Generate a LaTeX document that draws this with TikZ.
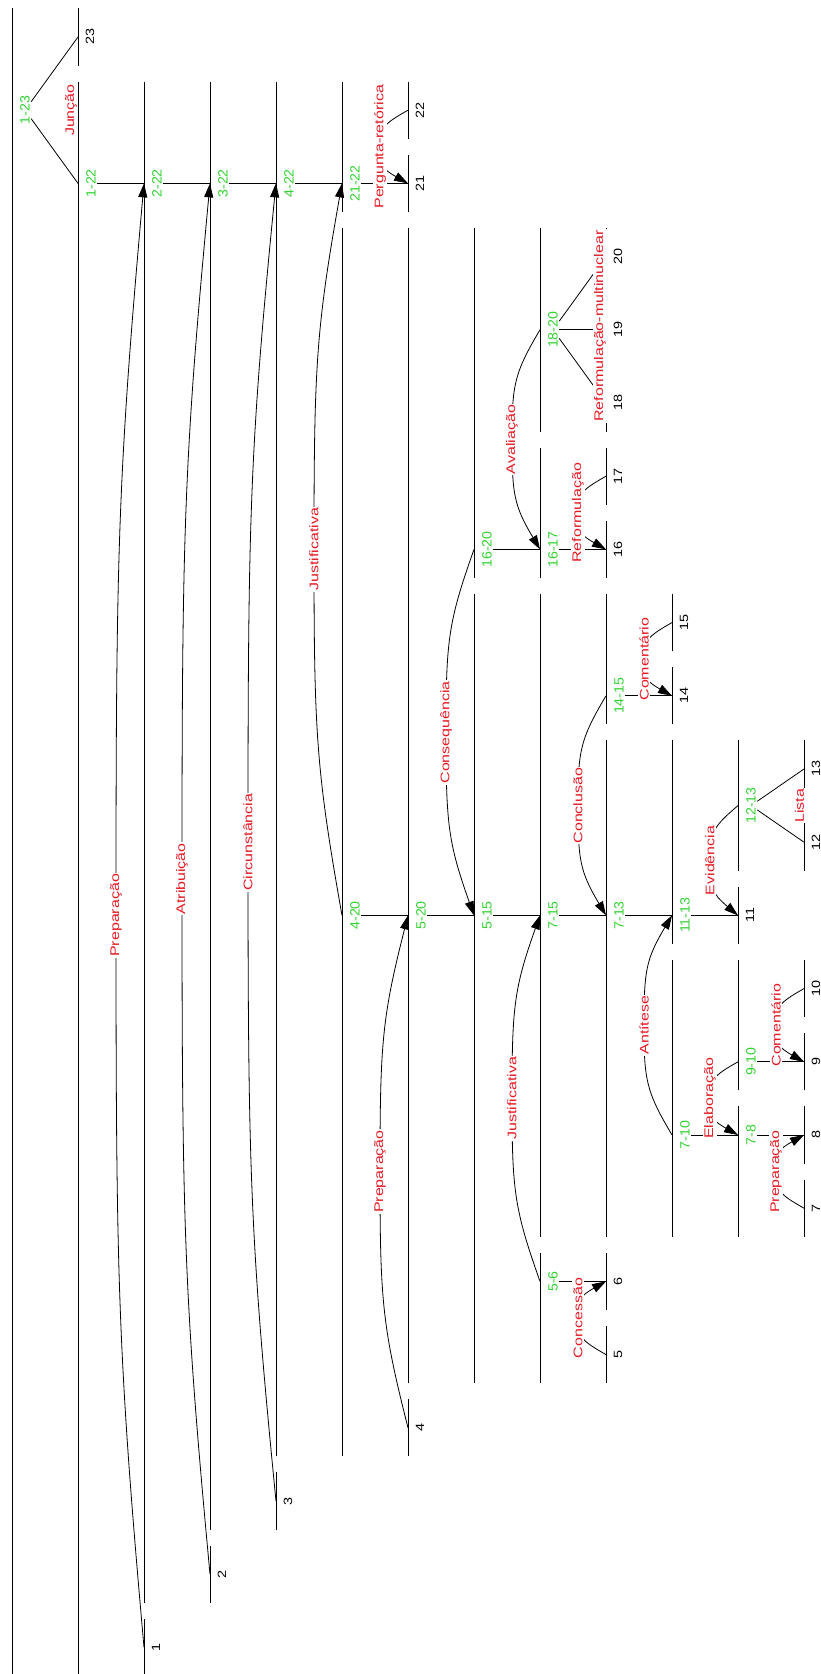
\documentclass[tikz,border=0pt]{standalone}
\usepackage{fontspec}
\setmainfont{Liberation Sans}
\newfontfamily\relfont[FakeStretch=1.28]{Liberation Sans}
\newfontfamily\numfont[FakeStretch=1.2]{Liberation Sans}
\newfontfamily\spanfont[FakeStretch=1.05]{Liberation Sans}
\usetikzlibrary{calc,arrows.meta}

\definecolor{spangreen}{RGB}{50,210,50}
\definecolor{relred}{RGB}{230,25,35}

\tikzset{
  leafnum/.style={rotate=90,inner sep=1pt,font=\numfont\fontsize{12}{12}\selectfont},
  spanname/.style={rotate=90,inner sep=1pt,text=spangreen,font=\spanfont\fontsize{13.5}{13.5}\selectfont},
  relname/.style={rotate=90,inner sep=1pt,fill=white,text=relred,font=\relfont\fontsize{12.5}{12.5}\selectfont},
  satline/.style={-{Triangle[length=14pt,width=9pt]}},
}

% satellite #1 -> nucleus #2, relation #3 written at the top of the arc
\newcommand\relarc[3]{%
  \coordinate (a#1) at ($(p#1)!0.5!(p#2)+(-28pt,0pt)$);
  \draw[satline] (p#1) .. controls ($(a#1|-p#1)!0.4!(a#1)+(2pt,0pt)$) and ($(a#1)!0.5!(a#1|-p#1)$) .. (a#1)
    .. controls ($(a#1)!0.5!(a#1|-p#2)$) and ($(a#1|-p#2)!0.4!(a#1)+(2pt,0pt)$) .. (p#2);
  \node[relname] (r#1) at (a#1) {#3};
}

\begin{document}
\begin{tikzpicture}[x=66pt,y=73.2pt,line width=0.8pt]
\useasboundingbox (-12pt,46.6pt) rectangle (808pt,1720.6pt);

% one bar per span: level / first unit / last unit
\foreach \lv/\a/\b in {0/1/23, 1/23/23, 1/1/22, 2/2/22, 2/1/1, 3/3/22, 3/2/2,
    4/4/22, 4/3/3, 5/21/22, 5/4/20, 6/22/22, 6/21/21, 6/5/20, 6/4/4,
    7/16/20, 7/5/15, 8/18/20, 8/16/17, 8/7/15, 8/5/6,
    9/20/20, 9/19/19, 9/18/18, 9/17/17, 9/16/16, 9/14/15, 9/7/13, 9/6/6, 9/5/5,
    10/15/15, 10/14/14, 10/11/13, 10/7/10, 11/12/13, 11/11/11, 11/9/10, 11/7/8,
    12/13/13, 12/12/12, 12/10/10, 12/9/9, 12/8/8, 12/7/7}
  \draw (\lv,{\a-0.39}) -- (\lv,{\b+0.39});

% units
\foreach \i/\lv in {1/2, 2/3, 3/4, 4/6, 5/9, 6/9, 7/12, 8/12, 9/12, 10/12, 11/11,
    12/12, 13/12, 14/10, 15/10, 16/9, 17/9, 18/9, 19/9, 20/9, 21/6, 22/6, 23/1} {
  \coordinate (p\i) at (\lv,\i);
  \node[leafnum] (t\i) at ($(p\i)+(12pt,0pt)$) {\i};
}

% spans
\foreach \nm/\lv/\ps in {1-23/0/22, 1-22/1/21, 2-22/2/21, 3-22/3/21, 4-22/4/21,
    21-22/5/21, 4-20/5/11, 5-20/6/11, 16-20/7/16, 5-15/7/11, 18-20/8/19,
    16-17/8/16, 7-15/8/11, 5-6/8/6, 14-15/9/14, 7-13/9/11, 11-13/10/11,
    7-10/10/8, 12-13/11/12.5, 9-10/11/9, 7-8/11/8} {
  \coordinate (p\nm) at (\lv,\ps);
  \node[spanname] (t\nm) at ($(p\nm)+(13pt,0pt)$) {\nm};
}

% nucleus links
\foreach \a/\b in {1-22/2-22, 2-22/3-22, 3-22/4-22, 4-22/21-22, 21-22/21,
    4-20/5-20, 5-20/5-15, 5-15/7-15, 7-15/7-13, 7-13/11-13, 11-13/11,
    16-20/16-17, 16-17/16, 5-6/6, 14-15/14, 7-10/7-8, 7-8/8, 9-10/9}
  \draw (t\a) -- (p\b);

% multinuclear links
\foreach \a/\b in {1-23/23, 1-23/1-22, 18-20/20, 18-20/19, 18-20/18, 12-13/13, 12-13/12}
  \draw (t\a) -- (p\b);

% satellite arcs
\relarc{1}{2-22}{Preparação}
\relarc{2}{3-22}{Atribuição}
\relarc{3}{4-22}{Circunstância}
\relarc{4-20}{21-22}{Justificativa}
\relarc{22}{21}{Pergunta-retórica}
\relarc{4}{5-20}{Preparação}
\relarc{16-20}{5-15}{Consequência}
\relarc{18-20}{16-17}{Avaliação}
\relarc{5-6}{7-15}{Justificativa}
\relarc{17}{16}{Reformulação}
\relarc{14-15}{7-13}{Conclusão}
\relarc{5}{6}{Concessão}
\relarc{15}{14}{Comentário}
\relarc{7-10}{11-13}{Antítese}
\relarc{12-13}{11}{Evidência}
\relarc{9-10}{7-8}{Elaboração}
\relarc{10}{9}{Comentário}
\relarc{7}{8}{Preparação}

% multinuclear relation names
\node[relname] (rjuncao) at (0.894,22) {Junção};
\node[relname,inner sep=1.5pt] (rreform) at (8.909,19.05) {Reformulação-multinuclear};
\node[relname] (rlista) at (11.93,12.5) {Lista};
\end{tikzpicture}
\end{document}
